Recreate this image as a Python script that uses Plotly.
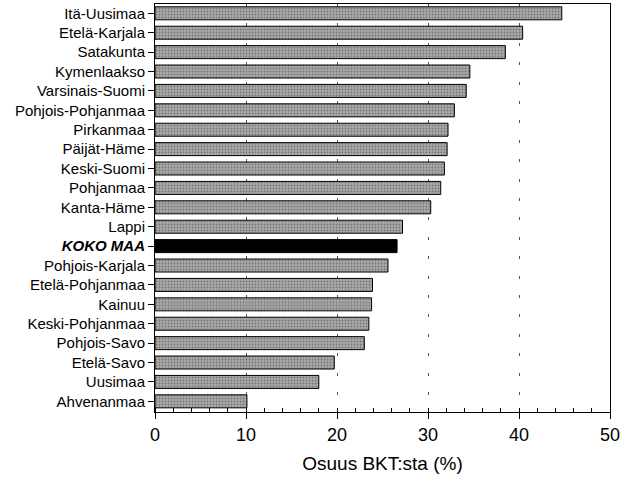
import plotly.graph_objects as go

regions = ["Itä-Uusimaa", "Etelä-Karjala", "Satakunta", "Kymenlaakso", "Varsinais-Suomi",
           "Pohjois-Pohjanmaa", "Pirkanmaa", "Päijät-Häme", "Keski-Suomi", "Pohjanmaa",
           "Kanta-Häme", "Lappi", "KOKO MAA", "Pohjois-Karjala", "Etelä-Pohjanmaa",
           "Kainuu", "Keski-Pohjanmaa", "Pohjois-Savo", "Etelä-Savo", "Uusimaa", "Ahvenanmaa"]
share = [44.7, 40.4, 38.5, 34.6, 34.2,
         32.9, 32.2, 32.1, 31.8, 31.4,
         30.3, 27.2, 26.6, 25.6, 23.9,
         23.8, 23.5, 23.0, 19.7, 18.0, 10.1]

total = "KOKO MAA"
labels = ["<b><i>%s</i></b>" % r if r == total else r for r in regions]
colors = ["black" if r == total else "#a9a9a9" for r in regions]
shapes = ["" if r == total else "." for r in regions]

fig = go.Figure()
fig.add_trace(go.Bar(
    x=share, y=labels, orientation="h",
    marker=dict(color=colors, line=dict(color="black", width=1),
                pattern=dict(shape=shapes, fgcolor="#e8e8e8", size=3, solidity=0.3)),
    showlegend=False,
))

fig.update_layout(
    width=636, height=479,
    margin=dict(l=155, r=26, t=4, b=67),
    paper_bgcolor="white", plot_bgcolor="white",
    bargap=0.33,
    font=dict(family="Liberation Sans, Arial, sans-serif", color="black"),
)

fig.update_xaxes(
    range=[0, 50], dtick=10, automargin=False,
    showline=True, linecolor="black", linewidth=1, mirror=True,
    ticks="outside", ticklen=6, tickcolor="black",
    minor=dict(dtick=2, ticks="inside", ticklen=4, tickcolor="black"),
    showgrid=True, gridcolor="#555555", gridwidth=1, griddash="3px,16.4px",
    zeroline=False,
    tickfont=dict(size=18),
    title=dict(text="Osuus BKT:sta (%)", font=dict(size=19), standoff=13),
)

fig.update_yaxes(
    type="category", range=[20.55, -0.48], automargin=False,
    showline=True, linecolor="black", linewidth=1, mirror=True,
    ticks="outside", ticklen=6, tickcolor="black",
    showgrid=False,
    tickfont=dict(size=15),
)

# drop the browser's default 8px body margin so the figure sits at the page corner
fig.write_html("out.html", config={"displayModeBar": False},
               post_script="document.body.style.margin='0';")
